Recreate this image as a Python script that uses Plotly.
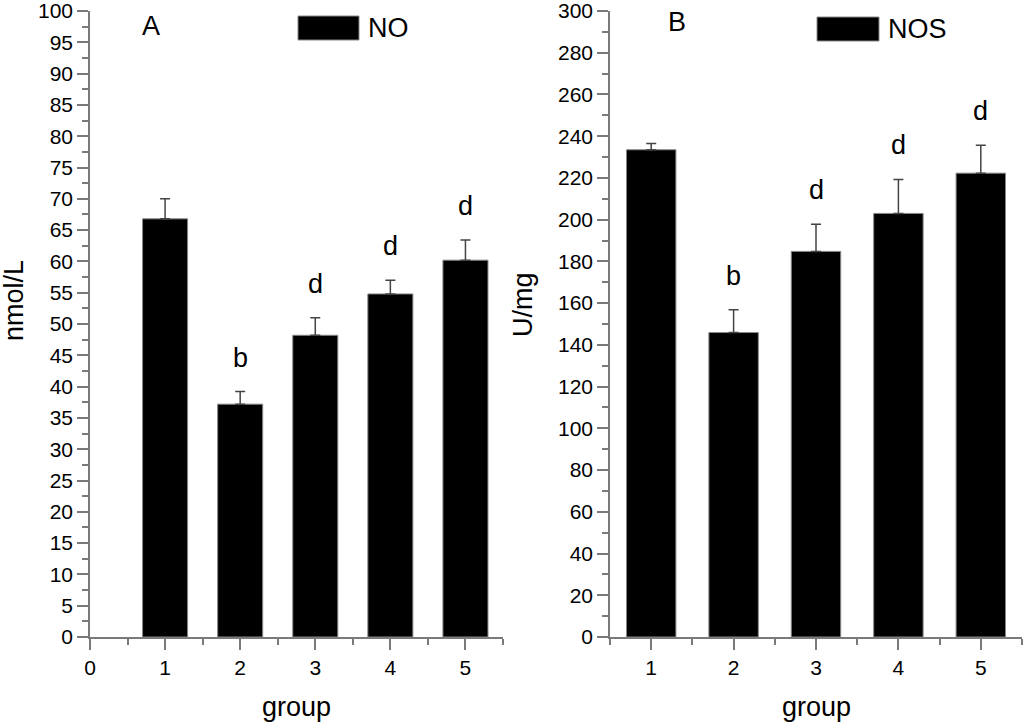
import plotly.graph_objects as go

# data
groups = [1, 2, 3, 4, 5]

no_mean = [66.8, 37.2, 48.2, 54.8, 60.2]
no_err = [3.2, 2.0, 2.8, 2.2, 3.2]
no_letters = ['', 'b', 'd', 'd', 'd']

nos_mean = [233.5, 145.9, 184.8, 203.0, 222.3]
nos_err = [3.0, 10.9, 13.0, 16.3, 13.4]
nos_letters = ['', 'b', 'd', 'd', 'd']

FONT = 'Liberation Sans, Arial, sans-serif'
AXIS_GREY = '#7a7a7a'
ERR_GREY = '#444444'
W, H = 1024, 725

fig = go.Figure()

fig.add_trace(go.Bar(
    x=groups, y=no_mean, width=0.6, name='NO',
    marker_color='black', marker_line_color='#888888', marker_line_width=1,
    error_y=dict(type='data', symmetric=False, array=no_err,
                 arrayminus=[0] * len(no_err), color=ERR_GREY,
                 thickness=1.5, width=5),
    xaxis='x', yaxis='y', showlegend=False))

fig.add_trace(go.Bar(
    x=groups, y=nos_mean, width=0.6, name='NOS',
    marker_color='black', marker_line_color='#888888', marker_line_width=1,
    error_y=dict(type='data', symmetric=False, array=nos_err,
                 arrayminus=[0] * len(nos_err), color=ERR_GREY,
                 thickness=1.5, width=5),
    xaxis='x2', yaxis='y2', showlegend=False))

common = dict(showgrid=False, zeroline=False, showline=True, automargin=False,
              linecolor=AXIS_GREY, linewidth=1.5, ticks='outside',
              tickcolor=AXIS_GREY, tickwidth=1.5, ticklen=11,
              ticklabeloverflow='allow',
              tickfont=dict(family=FONT, size=21, color='black'))


def minor(step):
    return dict(dtick=step, ticks='outside', ticklen=6,
                tickcolor=AXIS_GREY, tickwidth=1.5)


fig.update_layout(
    template='none',
    width=W, height=H,
    margin=dict(l=0, r=0, t=0, b=0, autoexpand=False),
    plot_bgcolor='white', paper_bgcolor='white',
    xaxis=dict(domain=[90 / W, 503 / W], range=[0, 5.5], dtick=1, tick0=0,
               anchor='y', minor=minor(0.5), **common),
    yaxis=dict(domain=[1 - 637 / H, 1 - 11 / H], range=[0, 100], dtick=5,
               anchor='x', minor=minor(2.5), **common),
    xaxis2=dict(domain=[610 / W, 1022 / W], range=[0.5, 5.5], dtick=1, tick0=0,
                anchor='y2', minor=minor(0.5), **common),
    yaxis2=dict(domain=[1 - 637 / H, 1 - 11 / H], range=[0, 300], dtick=20,
                anchor='x2', minor=minor(10), **common),
)

annots = []
# significance letters above the error bars
for xr, yr, means, errs, letters in [('x', 'y', no_mean, no_err, no_letters),
                                     ('x2', 'y2', nos_mean, nos_err, nos_letters)]:
    for g, m, e, t in zip(groups, means, errs, letters):
        if t:
            annots.append(dict(x=g, y=m + e, xref=xr, yref=yr, text=t,
                               showarrow=False, yanchor='middle', yshift=34,
                               font=dict(family=FONT, size=27, color='black')))

lab = dict(family=FONT, size=27, color='black')


def paper_text(text, px, py, xanchor='center', angle=0, yanchor='middle'):
    return dict(x=px / W, y=1 - py / H, xref='paper', yref='paper', text=text,
                xanchor=xanchor, yanchor=yanchor, textangle=angle,
                showarrow=False, font=lab)


annots += [
    paper_text('group', 296, 724, yanchor='bottom'),
    paper_text('group', 816, 724, yanchor='bottom'),
    paper_text('nmol/L', 14, 301, angle=-90),
    paper_text('U/mg', 523, 305, angle=-90),
    paper_text('A', 151, 26),
    paper_text('B', 677, 22),
    paper_text('NO', 366, 28, xanchor='left'),
    paper_text('NOS', 886, 29, xanchor='left'),
]
fig.update_layout(annotations=annots)

# legend swatches
for x0, x1, y0, y1 in [(298, 359, 16, 40), (817, 879, 17, 41)]:
    fig.add_shape(type='rect', xref='paper', yref='paper',
                  x0=x0 / W, x1=x1 / W, y0=1 - y1 / H, y1=1 - y0 / H,
                  fillcolor='black', line=dict(color='#888888', width=1))

fig.write_html("out.html", config={'displayModeBar': False},
               post_script="document.body.style.margin='0px';"
                           "document.body.style.overflow='hidden';")
